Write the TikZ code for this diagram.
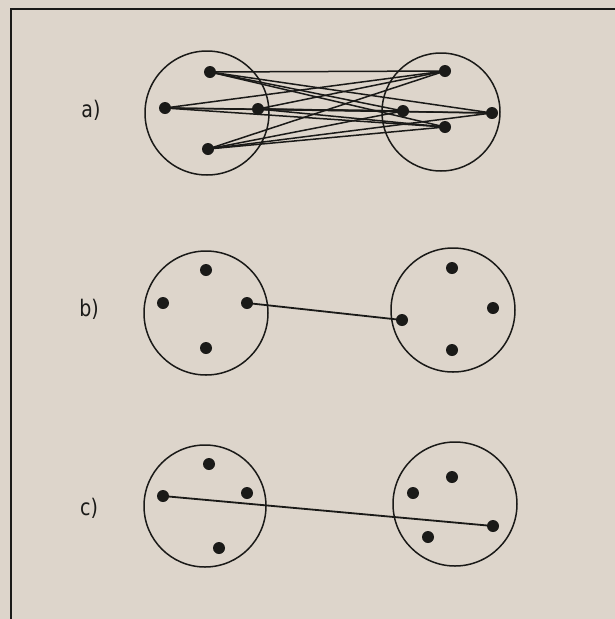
\documentclass[tikz,border=0pt]{standalone}
\usepackage{fontspec}
\setmainfont{DejaVu Sans}
\definecolor{bgc}{HTML}{DDD5CB}
\definecolor{ink}{HTML}{1A1A18}
\begin{document}
\begin{tikzpicture}[x=1pt,y=-1pt,
  dot/.style={circle,fill=ink,inner sep=0pt,minimum size=12pt},
  grp/.style={draw=ink,line width=1.5pt},
  edge/.style={draw=ink,line width=1.8pt},
  lbl/.style={text=ink,font=\fontsize{19}{22}\selectfont,inner sep=0pt,yscale=1.2}]
\fill[bgc] (0,0) rectangle (615,619);
\useasboundingbox (0,0) rectangle (615,619);
\begin{scope}
\clip (0,0) rectangle (615,619);
\draw[ink,line width=2.2pt] (11,9) rectangle (640,640);
\end{scope}
% panel a
\node[lbl] (la) at (91,110) {a)};
\draw[grp] (207,113) circle (62);
\draw[grp] (441,112) circle (59);
\node[dot] (a1) at (210,72) {};
\node[dot] (a2) at (165,108) {};
\node[dot] (a3) at (258,109) {};
\node[dot] (a4) at (208,149) {};
\node[dot] (b1) at (445,71) {};
\node[dot] (b2) at (403,111) {};
\node[dot] (b3) at (492,113) {};
\node[dot] (b4) at (445,127) {};
\foreach \i in {a1,a2,a3,a4}{\foreach \j in {b1,b2,b3,b4}{\draw[edge,line width=1.5pt] (\i.center) -- (\j.center);}}
% panel b
\node[lbl] (lb) at (89,309) {b)};
\draw[grp] (206,313) circle (62);
\draw[grp] (453,310) circle (62);
\node[dot] (c1) at (206,270) {};
\node[dot] (c2) at (163,303) {};
\node[dot] (c3) at (247,303) {};
\node[dot] (c4) at (206,348) {};
\node[dot] (d1) at (452,268) {};
\node[dot] (d2) at (493,308) {};
\node[dot] (d3) at (402,320) {};
\node[dot] (d4) at (452,350) {};
\draw[edge] (c3.center) -- (d3.center);
% panel c
\node[lbl] (lc) at (89,508) {c)};
\draw[grp] (205,506) circle (61);
\draw[grp] (455,504) circle (62);
\node[dot] (e1) at (209,464) {};
\node[dot] (e2) at (163,496) {};
\node[dot] (e3) at (247,493) {};
\node[dot] (e4) at (219,548) {};
\node[dot] (f1) at (452,477) {};
\node[dot] (f2) at (413,493) {};
\node[dot] (f3) at (428,537) {};
\node[dot] (f4) at (493,526) {};
\draw[edge] (e2.center) -- (f4.center);
\end{tikzpicture}
\end{document}
